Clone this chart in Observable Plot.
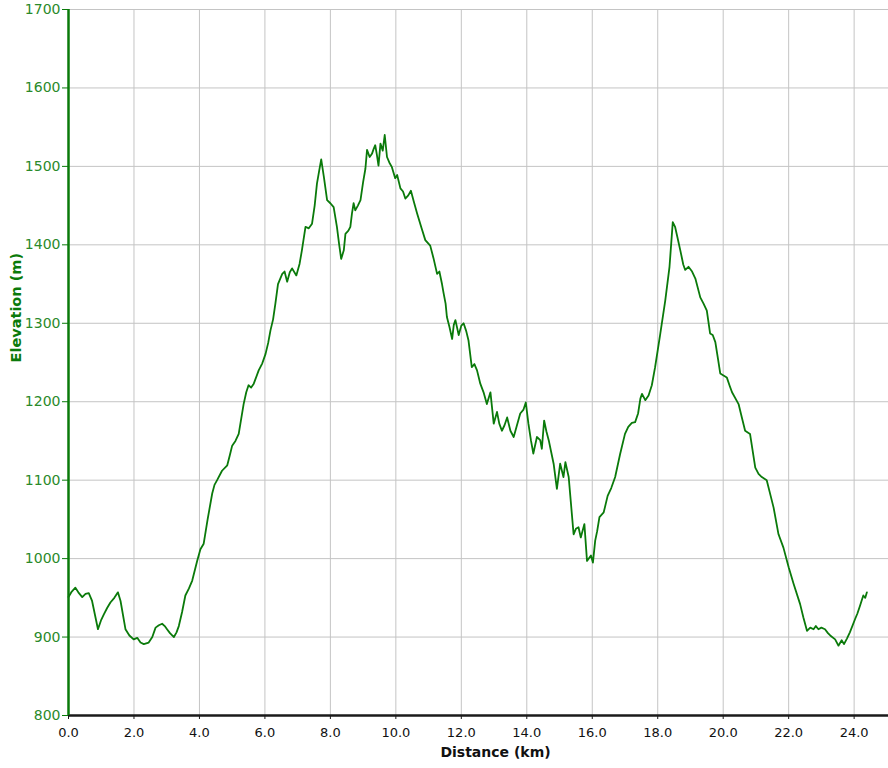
<!DOCTYPE html>
<html>
<head>
<meta charset="utf-8">
<script src="https://cdn.jsdelivr.net/npm/d3@7"></script>
<script src="https://cdn.jsdelivr.net/npm/@observablehq/plot@0.6"></script>
<style>
  html, body { margin: 0; padding: 0; background: #ffffff; overflow: hidden; }
  #chart svg { display: block; }
</style>
</head>
<body>
<div id="chart"></div>
<script>
// Distance along the track (km)
const distKm = [
  0.00,0.10,0.21,0.30,0.42,0.52,0.62,0.72,0.90,1.00,1.08,1.18,1.28,1.40,1.51,1.59,1.74,1.86,1.99,2.10,
  2.20,2.30,2.45,2.56,2.66,2.76,2.86,2.94,3.01,3.10,3.22,3.30,3.37,3.47,3.57,3.68,3.78,3.93,4.03,4.13,
  4.25,4.39,4.46,4.54,4.69,4.85,4.93,5.00,5.10,5.20,5.35,5.43,5.50,5.58,5.66,5.81,5.92,6.02,6.10,6.17,
  6.25,6.32,6.40,6.53,6.60,6.68,6.76,6.83,6.96,7.06,7.13,7.24,7.34,7.44,7.52,7.59,7.66,7.72,7.80,7.90,
  8.00,8.10,8.20,8.27,8.33,8.41,8.46,8.55,8.61,8.66,8.71,8.76,8.84,8.92,9.00,9.07,9.12,9.20,9.27,9.32,
  9.37,9.42,9.47,9.53,9.60,9.66,9.73,9.80,9.88,9.98,10.04,10.14,10.22,10.29,10.38,10.46,10.55,10.65,10.78,10.90,
  11.05,11.15,11.26,11.33,11.41,11.46,11.52,11.56,11.64,11.72,11.77,11.82,11.92,12.00,12.07,12.15,12.22,12.32,12.40,12.48,
  12.58,12.68,12.78,12.89,12.99,13.09,13.16,13.24,13.32,13.40,13.50,13.60,13.70,13.80,13.90,13.97,14.05,14.13,14.20,14.31,
  14.41,14.46,14.53,14.60,14.67,14.75,14.82,14.92,15.02,15.12,15.18,15.28,15.35,15.43,15.50,15.58,15.65,15.76,15.84,15.96,
  16.02,16.09,16.15,16.22,16.35,16.47,16.58,16.70,16.85,17.00,17.10,17.21,17.31,17.40,17.47,17.52,17.62,17.72,17.82,17.92,
  18.08,18.23,18.36,18.46,18.53,18.60,18.69,18.78,18.84,18.94,19.05,19.15,19.30,19.40,19.50,19.60,19.68,19.76,19.84,19.91,
  20.11,20.20,20.27,20.47,20.57,20.67,20.82,20.98,21.08,21.18,21.33,21.45,21.54,21.69,21.84,22.00,22.15,22.35,22.45,22.56,
  22.66,22.76,22.83,22.91,23.00,23.11,23.20,23.27,23.42,23.52,23.62,23.69,23.78,23.87,24.03,24.10,24.18,24.28,24.34,24.39
];
// Elevation (m)
const elevM = [
  951,958,963,957,951,955,956,946,910,922,929,937,944,950,957,946,910,902,897,899,
  893,891,893,900,912,915,917,914,910,905,900,906,914,932,953,962,972,997,1012,1019,
  1050,1083,1094,1100,1112,1119,1132,1144,1150,1159,1197,1212,1221,1218,1223,1240,1249,1261,1275,1291,
  1305,1325,1350,1363,1366,1353,1365,1370,1361,1376,1393,1423,1421,1427,1450,1478,1495,1509,1487,1457,
  1453,1448,1423,1400,1382,1393,1414,1418,1423,1440,1453,1444,1450,1457,1480,1497,1521,1512,1516,1522,
  1527,1515,1501,1529,1520,1540,1512,1505,1499,1485,1489,1472,1468,1459,1463,1469,1455,1440,1422,1406,
  1399,1383,1363,1366,1350,1338,1325,1308,1295,1280,1298,1304,1285,1297,1300,1290,1278,1244,1248,1240,
  1223,1212,1197,1212,1172,1187,1172,1163,1170,1180,1163,1155,1170,1185,1190,1199,1172,1150,1134,1155,
  1151,1140,1176,1162,1151,1135,1121,1089,1121,1104,1123,1104,1070,1031,1038,1040,1027,1044,997,1004,
  995,1023,1035,1053,1059,1080,1090,1104,1133,1159,1168,1173,1174,1185,1204,1210,1202,1208,1221,1244,
  1287,1329,1372,1429,1423,1410,1393,1375,1368,1372,1366,1357,1333,1325,1316,1287,1285,1276,1255,1236,
  1231,1220,1212,1197,1180,1163,1159,1116,1108,1104,1100,1080,1065,1031,1014,989,968,942,925,908,
  912,910,914,910,912,910,905,902,897,889,896,891,898,906,923,930,940,953,950,957
];
// Axis ticks
const xTicks = [0, 2, 4, 6, 8, 10, 12, 14, 16, 18, 20, 22, 24];
const yTicks = [800, 900, 1000, 1100, 1200, 1300, 1400, 1500, 1600, 1700];
const xLabel = "Distance (km)";
const yLabel = "Elevation (m)";

const data = distKm.map((d, i) => ({dist: d, elev: elevM[i]}));

const GREEN_LINE = "#0a7a0a";
const GREEN_TEXT = "#2a8a2a";

const chart = Plot.plot({
  width: 888,
  height: 768,
  marginLeft: 68,
  marginRight: 0,
  marginTop: 9,
  marginBottom: 53,
  style: {fontFamily: "'DejaVu Sans', sans-serif", background: "#ffffff"},
  x: {domain: [0, 25.05]},
  y: {domain: [800, 1700]},
  marks: [
    Plot.gridX(xTicks, {stroke: "#c4c4c4", strokeOpacity: 1, strokeWidth: 1}),
    Plot.gridY(yTicks, {stroke: "#c4c4c4", strokeOpacity: 1, strokeWidth: 1}),
    Plot.line(data, {x: "dist", y: "elev", stroke: GREEN_LINE, strokeWidth: 1.8}),
    Plot.ruleY([800], {stroke: "#1a1a1a", strokeWidth: 2.5}),
    Plot.ruleX([0], {stroke: GREEN_LINE, strokeWidth: 2.5}),
    Plot.axisX(xTicks, {
      tickSize: 4, tickPadding: 8, stroke: "#1a1a1a", fill: "#111",
      fontSize: 13, tickFormat: d3.format(".1f"), label: null
    }),
    Plot.axisY(yTicks, {
      tickSize: 6, tickPadding: 2, stroke: GREEN_LINE, fill: GREEN_TEXT,
      fontSize: 14, tickFormat: d => String(d), label: null
    }),
    Plot.text([xLabel], {
      frameAnchor: "bottom", dx: 17, dy: 41, text: d => d,
      fill: "#111", fontSize: 14, fontWeight: "bold"
    }),
    Plot.text([yLabel], {
      frameAnchor: "left", dx: -52, rotate: -90, text: d => d,
      fill: GREEN_LINE, fontSize: 14.5, fontWeight: "bold"
    })
  ]
});

document.getElementById("chart").appendChild(chart);
</script>
</body>
</html>
